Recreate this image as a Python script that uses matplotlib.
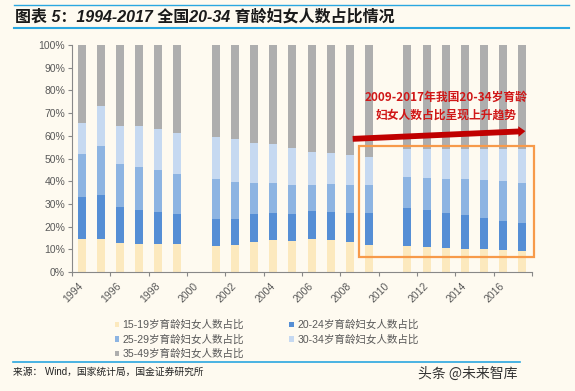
import numpy as np
import matplotlib
matplotlib.use("Agg")
import matplotlib.pyplot as plt

plt.rcParams['font.family'] = ['Liberation Sans', 'Noto Sans CJK SC', 'DejaVu Sans']

# categories: 1994-2017, no data for 2000 and 2010
years = [str(y) for y in range(1994, 2018)]
tick_years = years[::2]

nan = np.nan
age_15_19 = [14.4, 14.7, 12.6, 12.2, 12.5, 12.2, nan, 11.5, 11.7, 13.4, 14.2, 13.8,
             14.7, 14.2, 13.4, 11.9, nan, 11.5, 11.2, 10.6, 10.0, 10.0, 9.6, 9.1]
age_20_24 = [18.8, 19.4, 15.9, 15.1, 13.9, 13.4, nan, 11.7, 11.5, 12.2, 11.7, 11.8,
             12.0, 12.2, 12.7, 14.2, nan, 16.5, 16.1, 15.5, 15.0, 13.7, 12.7, 12.4]
age_25_29 = [18.9, 21.3, 18.9, 19.0, 18.4, 17.7, nan, 17.9, 16.4, 13.8, 13.2, 12.6,
             11.8, 12.2, 12.2, 12.1, nan, 13.9, 14.0, 14.9, 16.0, 17.0, 17.8, 17.6]
age_30_34 = [13.7, 17.6, 17.0, 17.9, 18.1, 17.8, nan, 18.5, 18.8, 17.6, 17.1, 16.3,
             14.5, 13.7, 13.1, 12.5, nan, 12.3, 12.9, 13.2, 13.2, 13.5, 14.1, 15.1]
age_35_49 = [34.2, 27.0, 35.6, 35.8, 37.1, 38.9, nan, 40.4, 41.6, 43.0, 43.8, 45.5,
             47.0, 47.7, 48.6, 49.3, nan, 45.8, 45.8, 45.8, 45.8, 45.8, 45.8, 45.8]

labels = ['15-19岁育龄妇女人数占比', '20-24岁育龄妇女人数占比', '25-29岁育龄妇女人数占比',
          '30-34岁育龄妇女人数占比', '35-49岁育龄妇女人数占比']
colors = ['#FCE9BE', '#558ED5', '#8DB4E2', '#C6D9F1', '#AEAEAE']
series = [age_15_19, age_20_24, age_25_29, age_30_34, age_35_49]

bg = '#FEFAF0'
txt = '#595959'

fig = plt.figure(figsize=(5.75, 3.91), dpi=100, facecolor=bg)
ax = fig.add_axes([0.1252, 0.3043, 0.8, 0.5806], facecolor=bg)

x = np.arange(len(years))
valid = ~np.isnan(np.array(age_15_19))
bottom = np.zeros(len(years))
handles = []
for vals, col, lab in zip(series, colors, labels):
    v = np.array(vals, dtype=float)
    h = ax.bar(x[valid], v[valid], width=0.42, bottom=bottom[valid], color=col,
               label=lab, linewidth=0)
    handles.append(h)
    bottom = bottom + np.nan_to_num(v)

ax.set_xlim(-0.5, len(years) - 0.5)
ax.set_ylim(0, 100)
ax.set_yticks(np.arange(0, 101, 10))
ax.set_yticklabels([f'{v}%' for v in range(0, 101, 10)], fontsize=7.5, color=txt)
ax.set_xticks(np.arange(-0.5, len(years), 2))
ax.set_xticklabels([])
ax.set_xticks(x[::2], minor=True)
ax.set_xticklabels(tick_years, minor=True, rotation=45, ha='right', va='center',
                   rotation_mode='anchor', fontsize=7.5, color=txt)
ax.tick_params(axis='x', which='minor', length=0, pad=9)
ax.tick_params(axis='x', which='major', length=3, color='#888888', direction='out')
ax.tick_params(axis='y', length=3, color='#888888', direction='out', pad=2)
for s in ['top', 'right']:
    ax.spines[s].set_visible(False)
for s in ['left', 'bottom']:
    ax.spines[s].set_color('#888888')
    ax.spines[s].set_linewidth(0.8)

# highlight box and trend arrow
ax.add_patch(plt.Rectangle((14.5, 6.7), 9.1, 48.6, fill=False, edgecolor='#F79A4A',
                           linewidth=1.6, clip_on=False, zorder=5))
ax.annotate('', xy=(23.3, 62.1), xytext=(14.0, 58.6),
            arrowprops=dict(arrowstyle='simple,head_length=0.5,head_width=0.75,tail_width=0.42',
                            color='#C00000', lw=0), zorder=6)
ax.text(19.0, 73, '2009-2017年我国20-34岁育龄\n妇女人数占比呈现上升趋势', color='#D01818',
        fontsize=8.5, ha='center', va='center', linespacing=1.5,
        family=['Noto Sans CJK SC', 'DejaVu Sans'], fontweight='bold', zorder=6)

# legend, row-major order
order = [0, 2, 4, 1, 3]
fig.legend([handles[i] for i in order], [labels[i] for i in order], ncol=2,
           loc='upper left', bbox_to_anchor=(0.19, 0.195), frameon=False,
           fontsize=7.6, handlelength=0.45, handleheight=0.45, handletextpad=0.3,
           columnspacing=4.3, labelspacing=0.4, labelcolor=txt, borderpad=0)

# title and frame lines
line_col = '#2AA7E0'
fig.add_artist(plt.Line2D([0.024, 0.99], [0.988, 0.988], color=line_col, lw=1.0))
fig.add_artist(plt.Line2D([0.024, 0.99], [0.929, 0.929], color=line_col, lw=1.5))
fig.text(0.026, 0.958, '图表 5：1994-2017 全国20-34 育龄妇女人数占比情况', fontsize=11.5,
         fontweight='bold', style='italic', va='center', color='#1a1a1a',
         family=['Liberation Sans', 'Noto Sans CJK SC'])
fig.add_artist(plt.Line2D([0.023, 0.905], [0.075, 0.075], color=line_col, lw=1.2))
fig.text(0.023, 0.048, '来源： Wind，国家统计局，国金证券研究所', fontsize=7,
         va='center', color='#222222', family=['Liberation Sans', 'Noto Sans CJK SC'])
fig.text(0.727, 0.045, '头条 @未来智库', fontsize=10, va='center', color='#333333',
         family=['Noto Sans CJK SC', 'DejaVu Sans'])

fig.savefig('out.png', dpi=100, facecolor=bg)
